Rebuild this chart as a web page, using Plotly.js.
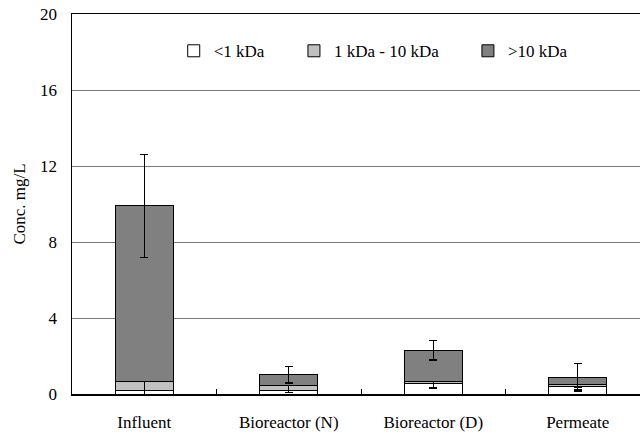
<!DOCTYPE html>
<html>
<head>
<meta charset="utf-8">
<script src="https://cdn.plot.ly/plotly-3.0.1.min.js"></script>
<style>
html,body{margin:0;padding:0;overflow:hidden;background:#fff;}
#chart{width:660px;height:440px;}
</style>
</head>
<body>
<div id="chart"></div>
<script>
// Data
const categories = ['Influent', 'Bioreactor (N)', 'Bioreactor (D)', 'Permeate'];
const seriesNames = ['<1 kDa', '1 kDa - 10 kDa', '>10 kDa'];
const below1 = [0.16, 0.18, 0.53, 0.38];
const from1to10 = [0.51, 0.29, 0.15, 0.13];
const above10 = [9.23, 0.55, 1.62, 0.37];
const errBelow1 = [0.19, 0.10, 0.20, 0.14];
const errFrom1to10 = [0.50, 0.27, 0.38, 0.16];
const errAbove10 = [2.70, 0.44, 0.52, 0.73];
const yTicks = [0, 4, 8, 12, 16, 20];

const font = 'Liberation Serif, Times New Roman, serif';
const colors = ['#FFFFFF', '#C0C0C0', '#808080'];
const vals = [below1, from1to10, above10];
const errs = [errBelow1, errFrom1to10, errAbove10];
const legends = ['legend', 'legend2', 'legend3'];

const traces = vals.map((v, i) => ({
  type: 'bar',
  name: seriesNames[i],
  x: categories,
  y: v,
  width: 0.4,
  marker: {color: colors[i], line: {color: '#000', width: 1}},
  error_y: {type: 'data', array: errs[i], visible: true, color: '#000', thickness: 1.4, width: 4},
  legend: legends[i]
}));

const legBase = {
  orientation: 'h', yanchor: 'middle', xanchor: 'left', y: 0.902,
  bgcolor: 'rgba(0,0,0,0)', borderwidth: 0,
  font: {family: font, size: 17, color: '#000'}
};

const layout = {
  width: 660, height: 440,
  margin: {l: 72, r: 10, t: 14, b: 46},
  paper_bgcolor: '#fff', plot_bgcolor: '#fff',
  barmode: 'stack',
  showlegend: true,
  font: {family: font, size: 17, color: '#000'},
  legend: Object.assign({}, legBase, {x: 0.176}),
  legend2: Object.assign({}, legBase, {x: 0.384}),
  legend3: Object.assign({}, legBase, {x: 0.685}),
  xaxis: {
    type: 'category',
    tickson: 'boundaries', ticks: 'inside', ticklen: 5, tickcolor: '#000',
    showline: true, linecolor: '#000', linewidth: 1.5, mirror: true,
    showgrid: false, zeroline: false,
    ticklabelstandoff: 12,
    tickfont: {family: font, size: 17, color: '#000'}
  },
  yaxis: {
    range: [0, 20], tickvals: yTicks, ticktext: yTicks.map(String),
    showgrid: true, gridcolor: '#7a7a7a', gridwidth: 1,
    showline: true, linecolor: '#000', linewidth: 1.5,
    zeroline: false, ticks: '',
    ticklabelstandoff: 10,
    tickfont: {family: font, size: 17, color: '#000'},
    title: {text: 'Conc. mg/L', font: {family: font, size: 17, color: '#000'}, standoff: 10},
    automargin: false
  }
};

Plotly.newPlot('chart', traces, layout, {displayModeBar: false, staticPlot: true});
</script>
</body>
</html>
